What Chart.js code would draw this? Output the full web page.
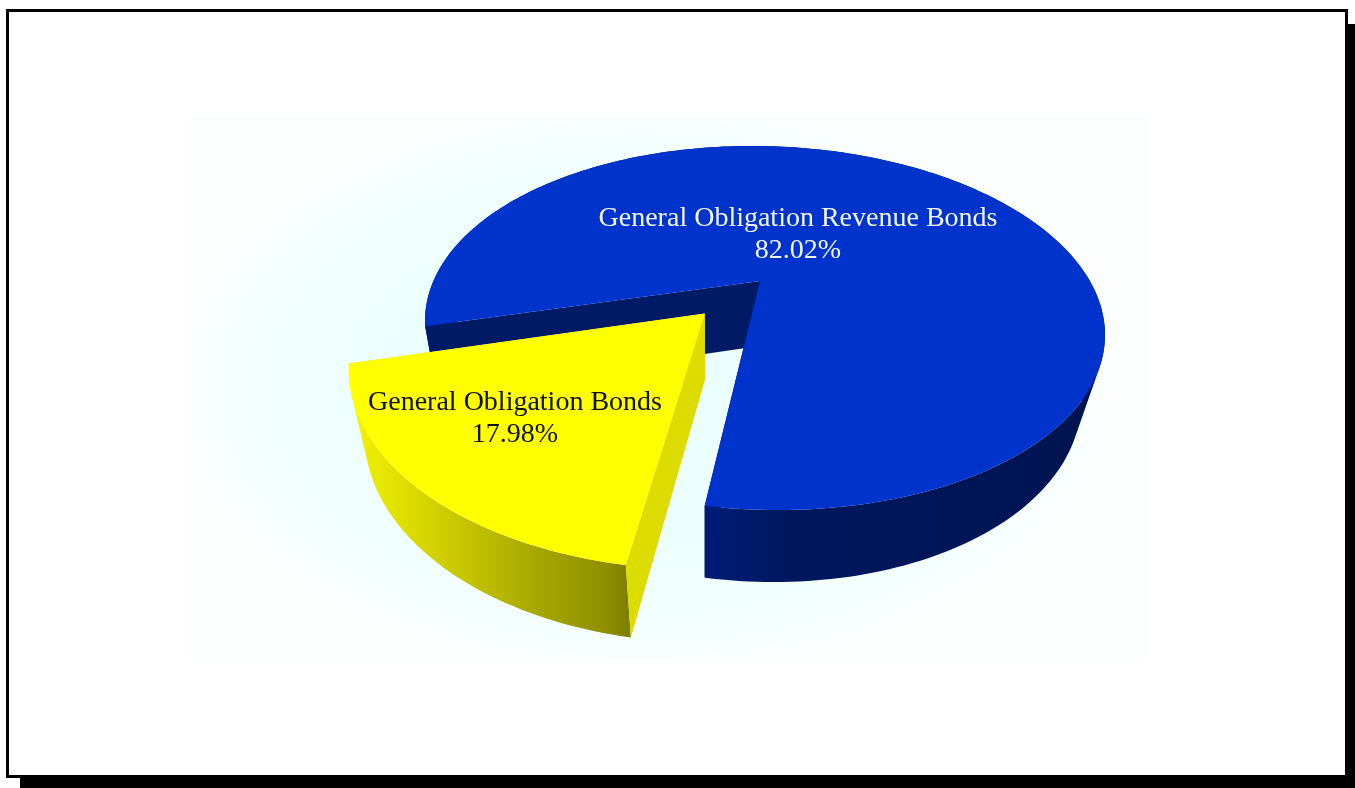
<!DOCTYPE html>
<html>
<head>
<meta charset="utf-8">
<title>Bond types</title>
<script src="https://cdn.jsdelivr.net/npm/chart.js@4"></script>
<style>
  html, body { margin: 0; padding: 0; background: #fff; overflow: hidden; }
  #frame {
    position: absolute; left: 6px; top: 9px; width: 1336px; height: 763px;
    border: 3px solid #000; background: #fff; box-shadow: 14px 15px 0 #000;
  }
  #glow {
    position: absolute; left: 190px; top: 115px; width: 960px; height: 545px;
    background: radial-gradient(ellipse 470px 285px at 47% 50%, #ebffff 50%, #f4ffff 85%, #fdffff 100%);
  }
  #pie { position: absolute; left: 0; top: 0; }
</style>
</head>
<body>
<div id="frame"></div>
<div id="glow"></div>
<canvas id="pie" width="1355" height="788"></canvas>
<script>
// Bond mix by type, in percent
const categories = ['General Obligation Revenue Bonds', 'General Obligation Bonds'];
const shares = [82.02, 17.98];

const sliceColors = ['#0033cc', '#ffff00'];
const innerWallColors = ['#001a66', '#dcdc00'];
const labelColors = ['#f2f6ff', '#111100'];
const outerWallStops = [
  [[704, '#001c78'], [740, '#001a6c'], [790, '#00175f'], [1100, '#001450']],
  [[355, '#f2f200'], [440, '#cfcf00'], [540, '#a6a600'], [606, '#8f8f00'], [630, '#7e7e00']]
];
const labelAnchors = [[798, 226, 258], [515, 410, 442]];

// Projection of the pie's plane onto the screen: an ellipse (centre, axes)
// plus the point where the true pie centre lands.
const ELLIPSE_C = [765, 328];
const ELLIPSE_M = [[340, 0], [7, 181.9]];
const PERSP = [-0.0147, -0.2578];
const VANISH = [705, 1650];
const DEPTH_K = 0.05;
const DEPTH_SKEW = 0.15;
// Slight angular foreshortening around the front-left of the pie
const WARP_AMOUNT = 0.0142;
const WARP_CENTRE = 130.3 * Math.PI / 180;

function project(u, lower) {
  const qq = PERSP[0] * PERSP[0] + PERSP[1] * PERSP[1];
  const gamma = 1 / Math.sqrt(1 - qq);
  const dot = PERSP[0] * u[0] + PERSP[1] * u[1];
  const w = 1 + dot;
  const par = [PERSP[0] * dot / qq, PERSP[1] * dot / qq];
  const perp = [u[0] - par[0], u[1] - par[1]];
  const vx = (PERSP[0] + par[0] + perp[0] / gamma) / w;
  const vy = (PERSP[1] + par[1] + perp[1] / gamma) / w;
  let x = ELLIPSE_C[0] + ELLIPSE_M[0][0] * vx + ELLIPSE_M[0][1] * vy;
  let y = ELLIPSE_C[1] + ELLIPSE_M[1][0] * vx + ELLIPSE_M[1][1] * vy;
  if (lower) {
    const t = DEPTH_K / (w + DEPTH_K);
    x += (VANISH[0] - x) * t * (1 + DEPTH_SKEW * u[0]);
    y += (VANISH[1] - y) * t;
  }
  return [x, y];
}

function addPath(ctx, pts) {
  pts.forEach((p, i) => (i ? ctx.lineTo(p[0], p[1]) : ctx.moveTo(p[0], p[1])));
  ctx.closePath();
}

function trace(ctx, pts) {
  ctx.beginPath();
  addPath(ctx, pts);
}

// Plane coordinates of one slice, taken from the arc element the library laid out
function sliceGeometry(arc) {
  const R = arc.outerRadius;
  const mid = (arc.startAngle + arc.endAngle) / 2;
  const shift = (arc.options.offset || 0) / 4 / R;
  const apex = [Math.cos(mid) * shift, Math.sin(mid) * shift];
  const steps = Math.max(8, Math.ceil((arc.endAngle - arc.startAngle) * 48));
  const rim = [];
  for (let i = 0; i <= steps; i++) {
    const a = arc.startAngle + (arc.endAngle - arc.startAngle) * i / steps;
    const b = a + WARP_AMOUNT * Math.sin(2 * (a - WARP_CENTRE));
    rim.push([apex[0] + Math.cos(b), apex[1] + Math.sin(b)]);
  }
  return { apex, rim };
}

// Turn direction at the rim corner of a radial wall
function cornerTurn(a, b, c) {
  return (b[0] - a[0]) * (c[1] - b[1]) - (b[1] - a[1]) * (c[0] - b[0]);
}

// Signed area, used to give every wall strip the same winding
function signedArea(pts) {
  let s = 0;
  pts.forEach((p, i) => {
    const n = pts[(i + 1) % pts.length];
    s += p[0] * n[1] - n[0] * p[1];
  });
  return s;
}

const extrudedPie = {
  id: 'extrudedPie',
  beforeDatasetDraw(chart, args) {
    const ctx = chart.ctx;
    const meta = chart.getDatasetMeta(args.index);
    ctx.save();
    meta.data.forEach((arc, i) => {
      const { apex, rim } = sliceGeometry(arc);
      const top = rim.map(p => project(p, false));
      const low = rim.map(p => project(p, true));
      const apexTop = project(apex, false);
      const apexLow = project(apex, true);
      const last = top.length - 1;

      const walls = [
        { quad: [apexTop, top[0], low[0], apexLow], facing: cornerTurn(apexTop, top[0], low[0]) < 0 },
        { quad: [apexTop, top[last], low[last], apexLow], facing: cornerTurn(apexTop, top[last], low[last]) > 0 }
      ];
      const paintWalls = facing => {
        ctx.fillStyle = innerWallColors[i];
        walls.filter(w => w.facing === facing).forEach(w => { trace(ctx, w.quad); ctx.fill(); });
      };

      paintWalls(false);

      // outer wall, one strip per rim step so the silhouette follows the edges
      const stops = outerWallStops[i];
      const x0 = stops[0][0];
      const span = stops[stops.length - 1][0] - x0;
      const grad = ctx.createLinearGradient(x0, 0, x0 + span, 0);
      stops.forEach(s => grad.addColorStop((s[0] - x0) / span, s[1]));
      ctx.fillStyle = grad;
      ctx.beginPath();
      for (let k = 0; k < last; k++) {
        let quad = [top[k], top[k + 1], low[k + 1], low[k]];
        if (signedArea(quad) < 0) quad = quad.reverse();
        addPath(ctx, quad);
      }
      ctx.fill();

      paintWalls(true);

      // top face
      ctx.fillStyle = arc.options.backgroundColor;
      trace(ctx, [apexTop].concat(top));
      ctx.fill();
    });
    ctx.restore();
    return false;
  },
  afterDatasetsDraw(chart) {
    const ctx = chart.ctx;
    const values = chart.data.datasets[0].data;
    ctx.save();
    ctx.font = '28px "Liberation Serif"';
    ctx.textAlign = 'center';
    ctx.textBaseline = 'alphabetic';
    chart.data.labels.forEach((label, i) => {
      const [x, y1, y2] = labelAnchors[i];
      ctx.fillStyle = labelColors[i];
      ctx.fillText(label, x, y1);
      ctx.fillText(values[i].toFixed(2) + '%', x, y2);
    });
    ctx.restore();
  }
};

new Chart(document.getElementById('pie'), {
  type: 'pie',
  plugins: [extrudedPie],
  data: {
    labels: categories,
    datasets: [{
      data: shares,
      backgroundColor: sliceColors,
      borderWidth: 0,
      offset: [0, 261]
    }]
  },
  options: {
    responsive: false,
    animation: false,
    events: [],
    rotation: 252.57,
    plugins: { legend: { display: false }, tooltip: { enabled: false } }
  }
});
</script>
</body>
</html>
